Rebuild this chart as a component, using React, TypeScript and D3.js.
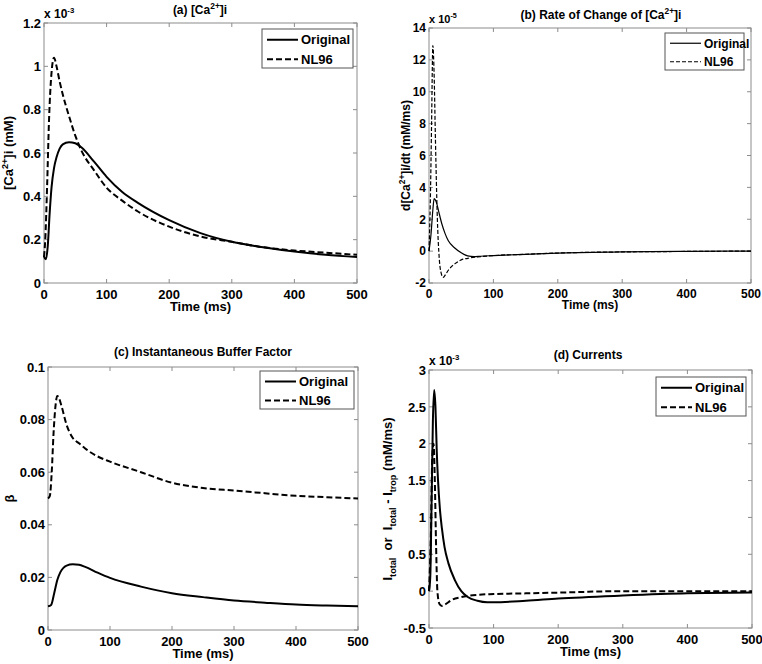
import React, { useEffect, useRef } from 'react';
import * as d3 from 'd3';

// ---- data ----
const xTicks = [0, 100, 200, 300, 400, 500];

// (a) [Ca2+]i, x 1e-3 mM
const tCaOrig = [0, 3, 6, 9, 12, 16, 20, 25, 30, 40, 50, 60, 80, 100, 125, 150, 200, 250, 300, 350, 400, 450, 500];
const caOrig = [0.12, 0.11, 0.17, 0.32, 0.44, 0.53, 0.58, 0.62, 0.64, 0.65, 0.645, 0.625, 0.56, 0.49, 0.42, 0.37, 0.29, 0.23, 0.19, 0.165, 0.145, 0.13, 0.12];
const tCaNL = [0, 2, 5, 8, 12, 16, 20, 25, 30, 40, 50, 60, 80, 100, 125, 150, 200, 250, 300, 350, 400, 450, 500];
const caNL = [0.12, 0.2, 0.45, 0.75, 0.97, 1.04, 1.0, 0.93, 0.87, 0.77, 0.68, 0.61, 0.52, 0.44, 0.38, 0.33, 0.26, 0.215, 0.19, 0.165, 0.15, 0.14, 0.13];
const caTicks = [0, 0.2, 0.4, 0.6, 0.8, 1, 1.2];

// (b) d[Ca2+]i/dt, x 1e-5 mM/ms
const tRateOrig = [0, 3, 6, 8, 10, 12, 15, 20, 25, 30, 40, 50, 60, 70, 80, 100, 150, 200, 300, 400, 500];
const rateOrig = [0, 1, 2.6, 3.3, 3.2, 3.0, 2.5, 1.7, 1.1, 0.65, 0.2, -0.1, -0.3, -0.35, -0.32, -0.28, -0.2, -0.12, -0.05, -0.01, 0];
const tRateNL = [0, 2, 4, 6, 8, 10, 13, 16, 19, 22, 26, 30, 40, 50, 60, 80, 100, 150, 200, 300, 400, 500];
const rateNL = [0, 3, 8, 12.9, 11, 7, 2, -0.5, -1.4, -1.65, -1.45, -1.2, -0.8, -0.55, -0.45, -0.35, -0.28, -0.2, -0.12, -0.05, -0.02, 0];
const rateTicks = [-2, 0, 2, 4, 6, 8, 10, 12, 14];

// (c) buffer factor beta
const tBetaOrig = [0, 5, 10, 15, 20, 30, 40, 50, 60, 80, 100, 150, 200, 250, 300, 350, 400, 450, 500];
const betaOrig = [0.009, 0.0095, 0.014, 0.019, 0.022, 0.0245, 0.025, 0.0248, 0.024, 0.0218, 0.0198, 0.0165, 0.014, 0.0125, 0.0112, 0.0104, 0.0097, 0.0093, 0.009];
const tBetaNL = [0, 3, 6, 9, 12, 15, 18, 22, 30, 40, 50, 60, 80, 100, 150, 200, 250, 300, 350, 400, 450, 500];
const betaNL = [0.05, 0.051, 0.06, 0.075, 0.085, 0.089, 0.088, 0.085, 0.078, 0.073, 0.071, 0.069, 0.066, 0.064, 0.06, 0.056, 0.054, 0.053, 0.052, 0.051, 0.0505, 0.05];
const betaTicks = [0, 0.02, 0.04, 0.06, 0.08, 0.1];

// (d) currents, x 1e-3 mM/ms
const tCurOrig = [0, 2, 4, 6, 8, 10, 12, 14, 17, 20, 24, 30, 40, 50, 60, 75, 90, 100, 150, 200, 300, 400, 500];
const curOrig = [0, 0.2, 1.2, 2.3, 2.73, 2.5, 1.9, 1.5, 1.1, 0.85, 0.6, 0.38, 0.15, 0, -0.08, -0.13, -0.15, -0.15, -0.13, -0.1, -0.06, -0.03, -0.02];
const tCurNL = [0, 3, 5, 7, 9, 11, 13, 16, 20, 25, 35, 50, 75, 100, 150, 200, 300, 400, 500];
const curNL = [0, 0.8, 1.8, 2.0, 1.5, 0.6, 0, -0.17, -0.2, -0.18, -0.12, -0.08, -0.05, -0.04, -0.03, -0.02, 0, 0, 0];
const curTicks = [-0.5, 0, 0.5, 1, 1.5, 2, 2.5, 3];

const seriesNames = ['Original', 'NL96'];

type Seg = { text: string; shift?: 'sup' | 'sub' };

interface PanelCfg {
  box: [number, number, number, number]; // left, top, right, bottom
  yDomain: [number, number];
  yTicks: number[];
  title: Seg[];
  titleX: number;
  titleY: number;
  yLabel: Seg[];
  yLabelX: number;
  exponent?: string;
  legend: [number, number, number, number];
  series: { t: number[]; v: number[] }[];
  font: number;
  lineW: number;
  dash: string;
}

const NB = '\u00a0';

const panels: PanelCfg[] = [
  {
    box: [44, 23, 357, 283], yDomain: [0, 1.2], yTicks: caTicks,
    title: [{ text: '(a) [Ca' }, { text: '2+', shift: 'sup' }, { text: ']i' }], titleX: 200, titleY: 14,
    yLabel: [{ text: '[Ca' }, { text: '2+', shift: 'sup' }, { text: ']i (mM)' }], yLabelX: 13,
    exponent: '-3', legend: [262, 29, 353, 68],
    series: [{ t: tCaOrig, v: caOrig }, { t: tCaNL, v: caNL }], font: 13, lineW: 2, dash: '6,3',
  },
  {
    box: [429, 28, 751, 283], yDomain: [-2, 14], yTicks: rateTicks,
    title: [{ text: '(b) Rate of Change of [Ca' }, { text: '2+', shift: 'sup' }, { text: ']i' }], titleX: 601, titleY: 19,
    yLabel: [{ text: 'd[Ca' }, { text: '2+', shift: 'sup' }, { text: ']i/dt (mM/ms)' }], yLabelX: 410,
    exponent: '-5', legend: [665, 33, 744, 70],
    series: [{ t: tRateOrig, v: rateOrig }, { t: tRateNL, v: rateNL }], font: 12, lineW: 1.2, dash: '4,2',
  },
  {
    box: [48, 367, 358, 630], yDomain: [0, 0.1], yTicks: betaTicks,
    title: [{ text: '(c) Instantaneous Buffer Factor' }], titleX: 203, titleY: 356,
    yLabel: [{ text: 'β' }], yLabelX: 14,
    legend: [260, 371, 354, 409],
    series: [{ t: tBetaOrig, v: betaOrig }, { t: tBetaNL, v: betaNL }], font: 13, lineW: 2, dash: '6,3',
  },
  {
    box: [429, 370, 752, 628], yDomain: [-0.5, 3], yTicks: curTicks,
    title: [{ text: '(d) Currents' }], titleX: 588, titleY: 359,
    yLabel: [
      { text: 'I' }, { text: 'total', shift: 'sub' }, { text: `${NB}${NB}or${NB}${NB}I` }, { text: 'total', shift: 'sub' },
      { text: `${NB}-${NB}I` }, { text: 'trop', shift: 'sub' }, { text: `${NB}(mM/ms)` },
    ], yLabelX: 392,
    exponent: '-3', legend: [656, 377, 746, 416],
    series: [{ t: tCurOrig, v: curOrig }, { t: tCurNL, v: curNL }], font: 13, lineW: 2, dash: '6,3',
  },
];

const FONT = '"Liberation Sans", Arial, sans-serif';

function writeSegs(sel: d3.Selection<SVGTextElement, unknown, null, undefined>, segs: Seg[], fs: number) {
  let prev: Seg['shift'];
  segs.forEach((s) => {
    const ts = sel.append('tspan').text(s.text);
    let dy = 0;
    if (prev === 'sup') dy += fs * 0.4;
    if (prev === 'sub') dy -= fs * 0.3;
    if (s.shift === 'sup') dy -= fs * 0.4;
    if (s.shift === 'sub') dy += fs * 0.3;
    ts.attr('dy', dy);
    if (s.shift) ts.attr('font-size', fs * 0.7);
    prev = s.shift;
  });
}

const App: React.FC = () => {
  const svgRef = useRef<SVGSVGElement | null>(null);

  useEffect(() => {
    if (!svgRef.current) return;
    const svg = d3.select(svgRef.current);
    svg.selectAll('*').remove();
    const axisColor = '#8c8c8c';

    panels.forEach((p) => {
      const [L, T, R, B] = p.box;
      const x = d3.scaleLinear().domain([0, 500]).range([L, R]);
      const y = d3.scaleLinear().domain(p.yDomain).range([B, T]);
      const g = svg.append('g');
      const fs = p.font;

      // box
      g.append('rect').attr('x', L).attr('y', T).attr('width', R - L).attr('height', B - T)
        .attr('fill', 'white').attr('stroke', axisColor).attr('stroke-width', 1);

      // ticks (inside, all sides)
      xTicks.forEach((t) => {
        g.append('line').attr('x1', x(t)).attr('x2', x(t)).attr('y1', B).attr('y2', B - 4).attr('stroke', axisColor);
        g.append('line').attr('x1', x(t)).attr('x2', x(t)).attr('y1', T).attr('y2', T + 4).attr('stroke', axisColor);
        g.append('text').attr('x', x(t)).attr('y', B + fs + 3).attr('text-anchor', 'middle')
          .attr('font-family', FONT).attr('font-weight', 'bold').attr('font-size', fs).text(t);
      });
      p.yTicks.forEach((t) => {
        g.append('line').attr('x1', L).attr('x2', L + 4).attr('y1', y(t)).attr('y2', y(t)).attr('stroke', axisColor);
        g.append('line').attr('x1', R).attr('x2', R - 4).attr('y1', y(t)).attr('y2', y(t)).attr('stroke', axisColor);
        g.append('text').attr('x', L - 3).attr('y', y(t) + fs * 0.36).attr('text-anchor', 'end')
          .attr('font-family', FONT).attr('font-weight', 'bold').attr('font-size', fs).text(String(t));
      });

      // axis labels
      g.append('text').attr('x', (L + R) / 2).attr('y', B + fs * 2 + 2).attr('text-anchor', 'middle')
        .attr('font-family', FONT).attr('font-weight', 'bold').attr('font-size', fs).text('Time (ms)');

      const yl = g.append('text').attr('transform', `translate(${p.yLabelX},${(T + B) / 2}) rotate(-90)`)
        .attr('text-anchor', 'middle').attr('font-family', FONT).attr('font-weight', 'bold').attr('font-size', fs);
      writeSegs(yl, p.yLabel, fs);

      const tl = g.append('text').attr('x', p.titleX).attr('y', p.titleY).attr('text-anchor', 'middle')
        .attr('font-family', FONT).attr('font-weight', 'bold').attr('font-size', 12);
      writeSegs(tl, p.title, 12);

      if (p.exponent) {
        const ex = g.append('text').attr('x', L).attr('y', T - 5)
          .attr('font-family', FONT).attr('font-weight', 'bold').attr('font-size', fs - 1);
        ex.append('tspan').text('x 10');
        ex.append('tspan').attr('font-size', (fs - 1) * 0.65).attr('dy', -5).text(p.exponent);
      }

      // curves
      const line = d3.line<[number, number]>().x((d) => x(d[0])).y((d) => y(d[1])).curve(d3.curveMonotoneX);
      p.series.forEach((s, i) => {
        const pts: [number, number][] = s.t.map((t, k) => [t, s.v[k]]);
        g.append('path').datum(pts).attr('d', line).attr('fill', 'none').attr('stroke', '#000')
          .attr('stroke-width', p.lineW).attr('stroke-dasharray', i === 1 ? p.dash : null);
      });

      // legend
      const [lx0, ly0, lx1, ly1] = p.legend;
      g.append('rect').attr('x', lx0).attr('y', ly0).attr('width', lx1 - lx0).attr('height', ly1 - ly0)
        .attr('fill', 'white').attr('stroke', '#555').attr('stroke-width', 1);
      const rowH = (ly1 - ly0) / 2;
      seriesNames.forEach((name, i) => {
        const cy = ly0 + rowH * (i + 0.5) + 1;
        g.append('line').attr('x1', lx0 + 5).attr('x2', lx0 + 36).attr('y1', cy).attr('y2', cy)
          .attr('stroke', '#000').attr('stroke-width', p.lineW).attr('stroke-dasharray', i === 1 ? p.dash : null);
        g.append('text').attr('x', lx0 + 39).attr('y', cy + fs * 0.36).attr('font-family', FONT)
          .attr('font-weight', 'bold').attr('font-size', fs).text(name);
      });
    });
  }, []);

  return (
    <svg ref={svgRef} width={762} height={664}
      style={{ position: 'absolute', left: 0, top: 0, background: 'white' }} />
  );
};

export default App;
